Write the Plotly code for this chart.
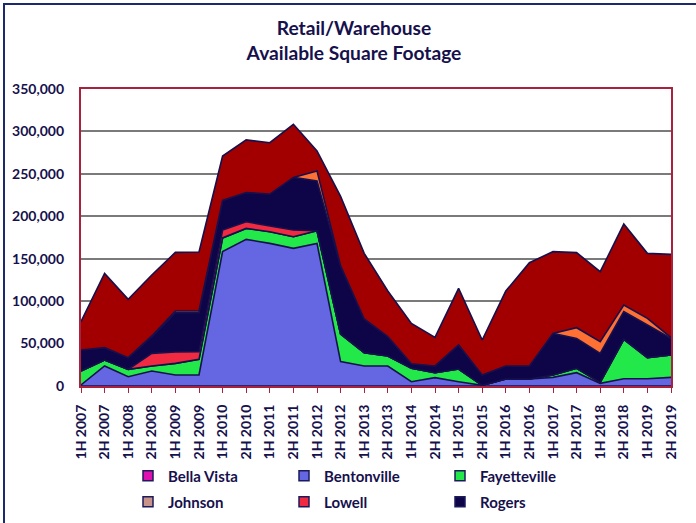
import plotly.graph_objects as go

periods = ["1H 2007", "2H 2007", "1H 2008", "2H 2008", "1H 2009", "2H 2009",
           "1H 2010", "2H 2010", "1H 2011", "2H 2011", "1H 2012", "2H 2012",
           "1H 2013", "2H 2013", "1H 2014", "2H 2014", "1H 2015", "2H 2015",
           "1H 2016", "2H 2016", "1H 2017", "2H 2017", "1H 2018", "2H 2018",
           "1H 2019", "2H 2019"]

bella_vista = [0] * 26
bentonville = [1200, 23600, 11000, 17700, 13000, 13000, 158500, 172800, 168100, 162200,
               168100, 28700, 23600, 23600, 5100, 9800, 5100, 800, 8200, 8200,
               10200, 15700, 3100, 8600, 8600, 10200]
fayetteville = [16500, 7000, 8600, 5900, 13700, 18400, 16000, 12900, 13700, 13700,
                14900, 32600, 15700, 11700, 15700, 5900, 14900, 0, 0, 0,
                2800, 5100, 1200, 46400, 24800, 26300]
johnson = [0] * 26
lowell = [0, 0, 0, 14900, 13400, 9100, 9300, 7900, 6700, 7900,
          0, 0, 0, 0, 0, 0, 0, 0, 0, 0, 0, 0, 0, 0, 0, 0]
rogers = [24700, 14600, 13800, 19600, 46300, 45900, 34900, 34500, 37700, 62000,
          58500, 80200, 39700, 22800, 5500, 7900, 28300, 12200, 15400, 15400,
          49000, 35300, 34200, 32600, 38500, 19600]
siloam_springs = [0, 0, 0, 900, 2000, 2000, 0, 0, 0, 0,
                  12000, 0, 0, 0, 0, 0, 0, 0, 0, 0,
                  0, 12600, 13700, 7800, 7800, 900]
springdale = [33400, 87500, 68700, 71800, 69100, 69600, 52300, 61900, 60500, 62600,
              23500, 82000, 77300, 53900, 47500, 33700, 66700, 41200, 88300, 121700,
              96300, 88500, 82500, 95400, 76600, 98100]

y_ticks = [0, 50000, 100000, 150000, 200000, 250000, 300000, 350000]

series = [
    ("Bella Vista", bella_vista, "#e010b0", "legend"),
    ("Bentonville", bentonville, "#6466e2", "legend"),
    ("Fayetteville", fayetteville, "#22e84a", "legend"),
    ("Johnson", johnson, "#c8948a", "legend2"),
    ("Lowell", lowell, "#f02a40", "legend2"),
    ("Rogers", rogers, "#0e0548", "legend2"),
    ("Siloam Springs", siloam_springs, "#ff7033", None),
    ("Springdale", springdale, "#a20000", None),
]

NAVY = "#16104c"
W, H = 696, 523
L, R, T, B = 81, 671, 89, 386

fig = go.Figure()
for name, vals, color, lg in series:
    fig.add_trace(go.Scatter(
        x=periods, y=vals, name=name, mode="lines", stackgroup="one",
        line=dict(color=NAVY, width=1.6), fillcolor=color,
        showlegend=False, hoverinfo="x+y+name"))

for name, vals, color, lg in series:
    if lg is None:
        continue
    fig.add_trace(go.Scatter(
        x=[None], y=[None], name=name, mode="markers", legend=lg,
        marker=dict(symbol="square", size=10, color=color,
                    line=dict(color="#1c1a5a", width=1.5)),
        showlegend=True))

def px_x(p):
    return (p - L) / (R - L)

def px_y(p):
    return (B - p) / (B - T)

legend_style = dict(orientation="h", xanchor="left", yanchor="middle",
                    traceorder="normal",
                    font=dict(family="Lato", size=15, color=NAVY, weight="bold"),
                    entrywidth=111, entrywidthmode="pixels",
                    itemwidth=30, bgcolor="rgba(0,0,0,0)", tracegroupgap=0)

fig.update_layout(
    width=W, height=H,
    margin=dict(l=L, r=W - R, t=T, b=H - B, autoexpand=False),
    paper_bgcolor="white", plot_bgcolor="white",
    title=dict(text="Retail/Warehouse<br>Available Square Footage",
               x=354 / W, xanchor="center", y=1 - 35 / H, yanchor="middle",
               font=dict(family="Lato", size=19.2, color=NAVY, weight="bold")),
    xaxis=dict(type="category", range=[0, len(periods) - 1], automargin=False,
               showgrid=False, showline=True, mirror=True,
               linecolor="#a8213d", linewidth=2.2,
               ticks="outside", ticklen=5, tickcolor="#a8213d", tickwidth=1,
               tickangle=-90, ticklabelstandoff=6,
               tickfont=dict(family="Lato", size=14, color=NAVY, weight="bold")),
    yaxis=dict(range=[0, 350000], tickvals=y_ticks, tickformat=",", automargin=False,
               showgrid=True, gridcolor="#7a7a7a", gridwidth=1.5,
               showline=True, mirror=True, linecolor="#a8213d", linewidth=2.2,
               ticks="", ticklabelstandoff=12, zeroline=False,
               tickfont=dict(family="Lato", size=14, color=NAVY, weight="bold")),
    legend=dict(x=px_x(128), y=px_y(476), **legend_style),
    legend2=dict(x=px_x(128), y=px_y(502), **legend_style),
    showlegend=True,
    shapes=[dict(type="rect", xref="paper", yref="paper",
                 x0=px_x(4), y0=px_y(540), x1=px_x(720), y1=px_y(4),
                 line=dict(color="#1a2a6a", width=2), layer="below")],
)

fig.write_html("out.html", config={"displayModeBar": False},
               post_script="document.body.style.margin='0';")
